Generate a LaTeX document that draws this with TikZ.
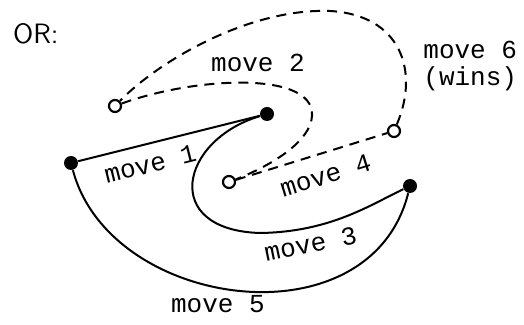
\documentclass[tikz,border=0pt]{standalone}
\usepackage{fontspec}
\setmonofont{Liberation Mono}
\usetikzlibrary{positioning}

\begin{document}
\begin{tikzpicture}[x=0.5pt, y=-0.5pt,
  dot/.style={circle, fill, inner sep=0pt, minimum size=7pt},
  hole/.style={circle, draw, line width=1.1pt, inner sep=0pt, minimum size=6pt},
  lbl/.style={font=\ttfamily\fontsize{13}{13.5}\selectfont},
  dashline/.style={line width=1pt, dash pattern=on 5pt off 3.5pt}]
\useasboundingbox (0,0) rectangle (524,325);
\node[font=\sffamily\fontsize{14}{16}\selectfont, anchor=west] (or) at (6,34) {OR:};

% positions after each move
\node[dot] (m1a) at (71,163) {};
\node[dot] (m1b) at (267,114) {};
\node[hole] (m2a) at (115,106) {};
\node[hole] (m2b) at (229,182) {};
\node[hole] (m4b) at (394,131) {};
\node[dot] (m3b) at (410,186) {};

% solid moves
\draw[line width=1pt] (m1a) -- node[lbl, sloped, below=2pt, pos=0.37] {move 1} (m1b);
\draw[line width=1pt] (m1b) .. controls (180,140) and (160,230) .. (260,233)
  .. controls (330,232) and (370,205) .. (m3b) node[lbl, sloped, below, pos=0.25] {move 3};
\draw[line width=1pt] (m1a) .. controls (110,310) and (370,345) .. (m3b)
  node[lbl, below, pos=0.45] {move 5};

% dashed moves
\draw[dashline] (m2a) .. controls (200,75) and (330,70) .. (310,125)
  .. controls (300,150) and (260,170) .. (m2b);
\node[lbl] (l2) at (258,63) {move 2};
\draw[dashline] (m2b) -- node[lbl, sloped, below=3pt, pos=0.55] {move 4} (m4b);
\draw[dashline] (m4b) .. controls (420,70) and (400,15) .. (330,11)
  .. controls (250,8) and (160,60) .. (m2a);
\node[lbl, align=left, anchor=west, inner sep=0pt] (l6) at (423,66) {move 6\\(wins)};
\end{tikzpicture}
\end{document}
